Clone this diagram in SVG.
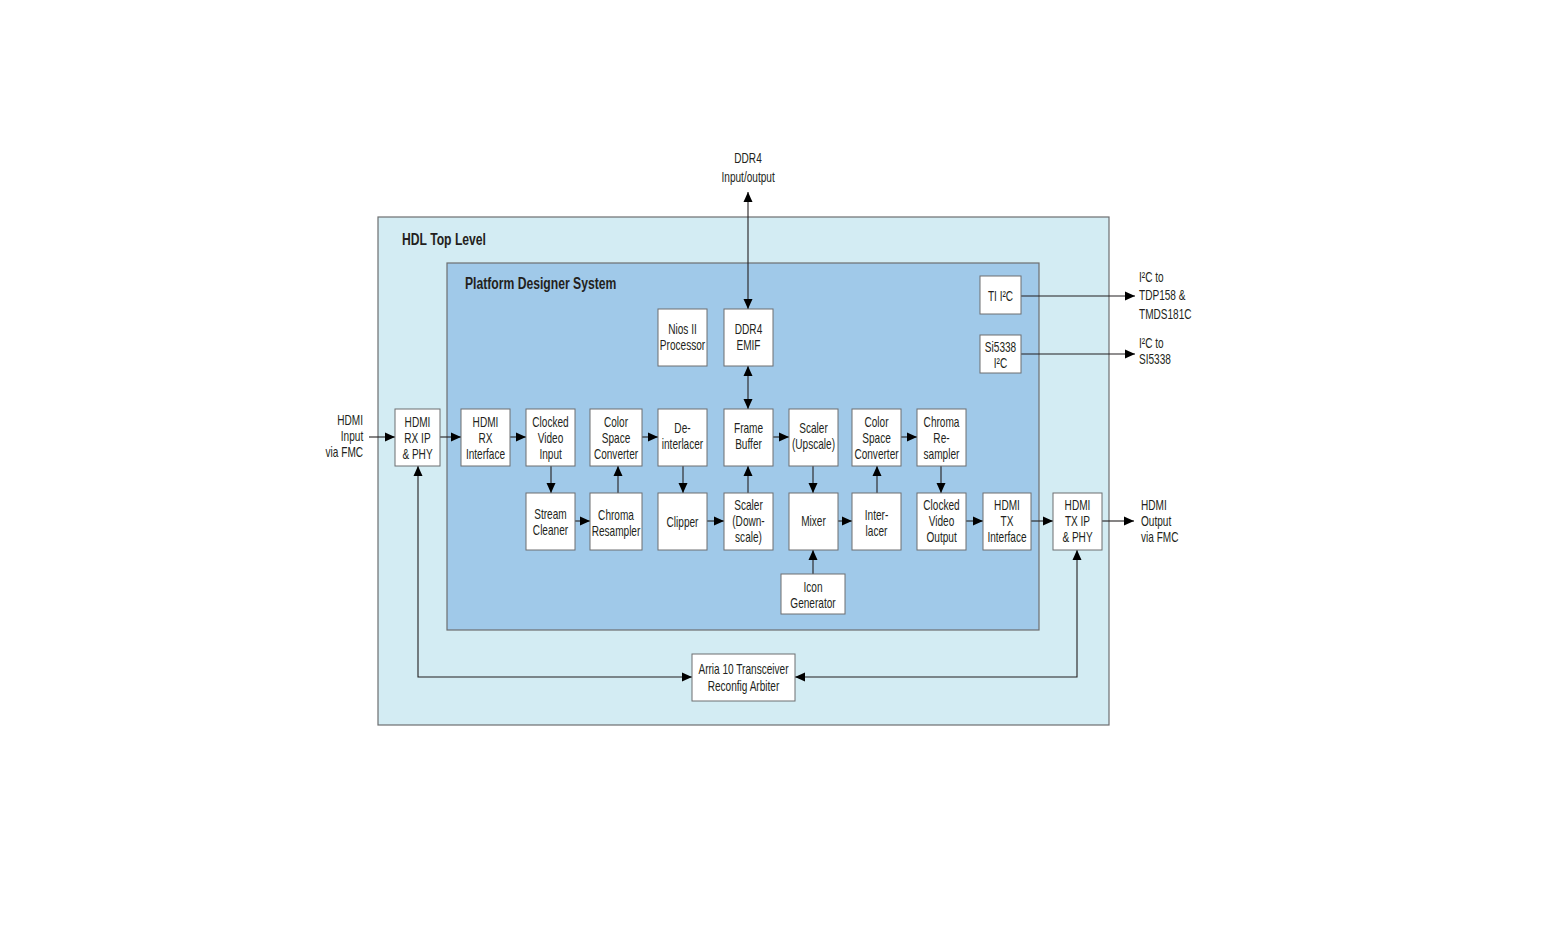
<svg xmlns="http://www.w3.org/2000/svg" width="1568" height="936" viewBox="0 0 1568 936">
<defs>
<style>
text{font-family:"Liberation Sans",Arial,sans-serif;font-size:14px;fill:#231f20;transform-box:fill-box;transform:scaleX(0.72);transform-origin:left center}
.c{text-anchor:middle;transform-origin:center}
.e{text-anchor:end;transform-origin:right center}
.t{font-weight:bold;font-size:16px;transform:scaleX(0.76)}
.b{fill:#fff;stroke:#6d6e70;stroke-width:1}
.ln{fill:none;stroke:#231f20;stroke-width:1.1}
.a{marker-end:url(#ah)}
.ab{marker-end:url(#ah);marker-start:url(#ah)}
</style>
<marker id="ah" viewBox="0 0 10 10" refX="10" refY="5" markerWidth="10" markerHeight="10" orient="auto-start-reverse" markerUnits="userSpaceOnUse"><path d="M0,0.5 L10,5 L0,9.5 z" fill="#000"/></marker>
</defs>
<rect width="1568" height="936" fill="#fff"/>
<g id="hdl-top-level">
<rect x="378" y="217" width="731" height="508" fill="#d3ecf3" stroke="#6d6e70" stroke-width="1.2"/>
<text x="402" y="245" class="t">HDL Top Level</text>
</g>
<g id="platform-designer-system">
<rect x="447" y="263" width="592" height="367" fill="#a0c9e9" stroke="#6d6e70" stroke-width="1.2"/>
<text x="465" y="289" class="t">Platform Designer System</text>
</g>
<g id="connectors">
<line class="ln ab" x1="748" y1="192" x2="748" y2="309"/>
<line class="ln ab" x1="748" y1="366" x2="748" y2="409"/>
<line class="ln a" x1="1021" y1="296" x2="1135" y2="296"/>
<line class="ln a" x1="1021" y1="354" x2="1135" y2="354"/>
<line class="ln a" x1="369" y1="437" x2="395" y2="437"/>
<line class="ln a" x1="440" y1="437" x2="461" y2="437"/>
<line class="ln a" x1="510" y1="437" x2="526" y2="437"/>
<line class="ln a" x1="551" y1="466" x2="551" y2="493"/>
<line class="ln a" x1="575" y1="521" x2="590" y2="521"/>
<line class="ln a" x1="618" y1="493" x2="618" y2="466"/>
<line class="ln a" x1="642" y1="437" x2="658" y2="437"/>
<line class="ln a" x1="683" y1="466" x2="683" y2="493"/>
<line class="ln a" x1="707" y1="521" x2="724" y2="521"/>
<line class="ln a" x1="748" y1="493" x2="748" y2="466"/>
<line class="ln a" x1="773" y1="437" x2="789" y2="437"/>
<line class="ln a" x1="813" y1="466" x2="813" y2="493"/>
<line class="ln a" x1="813" y1="574" x2="813" y2="550"/>
<line class="ln a" x1="838" y1="521" x2="852" y2="521"/>
<line class="ln a" x1="877" y1="493" x2="877" y2="466"/>
<line class="ln a" x1="901" y1="437" x2="917" y2="437"/>
<line class="ln a" x1="941" y1="466" x2="941" y2="493"/>
<line class="ln a" x1="966" y1="521" x2="983" y2="521"/>
<line class="ln a" x1="1031" y1="521" x2="1053" y2="521"/>
<line class="ln a" x1="1102" y1="521" x2="1134" y2="521"/>
<polyline class="ln ab" points="418,466 418,677 692,677"/>
<polyline class="ln ab" points="1077,550 1077,677 795,677"/>
</g>
<g id="ext-ddr4"><text x="748" y="163" class="c">DDR4</text><text x="748" y="182" class="c">Input/output</text></g>
<g id="ext-hdmi-in"><text x="363" y="425" class="e">HDMI</text><text x="363" y="441" class="e">Input</text><text x="363" y="457" class="e">via FMC</text></g>
<g id="ext-i2c-ti"><text x="1139" y="282">I²C to</text><text x="1139" y="300">TDP158 &amp;</text><text x="1139" y="319">TMDS181C</text></g>
<g id="ext-i2c-si"><text x="1139" y="348">I²C to</text><text x="1139" y="364">SI5338</text></g>
<g id="ext-hdmi-out"><text x="1141" y="510">HDMI</text><text x="1141" y="526">Output</text><text x="1141" y="542">via FMC</text></g>
<g id="nios"><rect class="b" x="658" y="309" width="49" height="57"/><text x="682.5" y="334" class="c">Nios II</text><text x="682.5" y="350" class="c">Processor</text></g>
<g id="ddr4-emif"><rect class="b" x="724" y="309" width="49" height="57"/><text x="748.5" y="334" class="c">DDR4</text><text x="748.5" y="350" class="c">EMIF</text></g>
<g id="ti-i2c"><rect class="b" x="980" y="276" width="41" height="38"/><text x="1000.5" y="301" class="c">TI I²C</text></g>
<g id="si5338-i2c"><rect class="b" x="980" y="335" width="41" height="38"/><text x="1000.5" y="352" class="c">Si5338</text><text x="1000.5" y="368" class="c">I²C</text></g>
<g id="hdmi-rx-ip"><rect class="b" x="395" y="409" width="45" height="57"/><text x="417.5" y="427" class="c">HDMI</text><text x="417.5" y="443" class="c">RX IP</text><text x="417.5" y="459" class="c">&amp; PHY</text></g>
<g id="hdmi-rx-if"><rect class="b" x="461" y="409" width="49" height="57"/><text x="485.5" y="427" class="c">HDMI</text><text x="485.5" y="443" class="c">RX</text><text x="485.5" y="459" class="c">Interface</text></g>
<g id="cvi"><rect class="b" x="526" y="409" width="49" height="57"/><text x="550.5" y="427" class="c">Clocked</text><text x="550.5" y="443" class="c">Video</text><text x="550.5" y="459" class="c">Input</text></g>
<g id="csc1"><rect class="b" x="590" y="409" width="52" height="57"/><text x="616" y="427" class="c">Color</text><text x="616" y="443" class="c">Space</text><text x="616" y="459" class="c">Converter</text></g>
<g id="deinterlacer"><rect class="b" x="658" y="409" width="49" height="57"/><text x="682.5" y="433" class="c">De-</text><text x="682.5" y="449" class="c">interlacer</text></g>
<g id="frame-buffer"><rect class="b" x="724" y="409" width="49" height="57"/><text x="748.5" y="433" class="c">Frame</text><text x="748.5" y="449" class="c">Buffer</text></g>
<g id="scaler-up"><rect class="b" x="789" y="409" width="49" height="57"/><text x="813.5" y="433" class="c">Scaler</text><text x="813.5" y="449" class="c">(Upscale)</text></g>
<g id="csc2"><rect class="b" x="852" y="409" width="49" height="57"/><text x="876.5" y="427" class="c">Color</text><text x="876.5" y="443" class="c">Space</text><text x="876.5" y="459" class="c">Converter</text></g>
<g id="chroma-resampler2"><rect class="b" x="917" y="409" width="49" height="57"/><text x="941.5" y="427" class="c">Chroma</text><text x="941.5" y="443" class="c">Re-</text><text x="941.5" y="459" class="c">sampler</text></g>
<g id="stream-cleaner"><rect class="b" x="526" y="493" width="49" height="57"/><text x="550.5" y="519" class="c">Stream</text><text x="550.5" y="535" class="c">Cleaner</text></g>
<g id="chroma-resampler1"><rect class="b" x="590" y="493" width="52" height="57"/><text x="616" y="520" class="c">Chroma</text><text x="616" y="536" class="c">Resampler</text></g>
<g id="clipper"><rect class="b" x="658" y="493" width="49" height="57"/><text x="682.5" y="527" class="c">Clipper</text></g>
<g id="scaler-down"><rect class="b" x="724" y="493" width="49" height="57"/><text x="748.5" y="510" class="c">Scaler</text><text x="748.5" y="526" class="c">(Down-</text><text x="748.5" y="542" class="c">scale)</text></g>
<g id="mixer"><rect class="b" x="789" y="493" width="49" height="57"/><text x="813.5" y="526" class="c">Mixer</text></g>
<g id="interlacer"><rect class="b" x="852" y="493" width="49" height="57"/><text x="876.5" y="520" class="c">Inter-</text><text x="876.5" y="536" class="c">lacer</text></g>
<g id="cvo"><rect class="b" x="917" y="493" width="49" height="57"/><text x="941.5" y="510" class="c">Clocked</text><text x="941.5" y="526" class="c">Video</text><text x="941.5" y="542" class="c">Output</text></g>
<g id="hdmi-tx-if"><rect class="b" x="983" y="493" width="48" height="57"/><text x="1007" y="510" class="c">HDMI</text><text x="1007" y="526" class="c">TX</text><text x="1007" y="542" class="c">Interface</text></g>
<g id="hdmi-tx-ip"><rect class="b" x="1053" y="493" width="49" height="57"/><text x="1077.5" y="510" class="c">HDMI</text><text x="1077.5" y="526" class="c">TX IP</text><text x="1077.5" y="542" class="c">&amp; PHY</text></g>
<g id="icon-generator"><rect class="b" x="781" y="574" width="64" height="40"/><text x="813" y="592" class="c">Icon</text><text x="813" y="608" class="c">Generator</text></g>
<g id="arbiter"><rect class="b" x="692" y="654" width="103" height="47"/><text x="743.5" y="674" class="c">Arria 10 Transceiver</text><text x="743.5" y="691" class="c">Reconfig Arbiter</text></g>
</svg>
